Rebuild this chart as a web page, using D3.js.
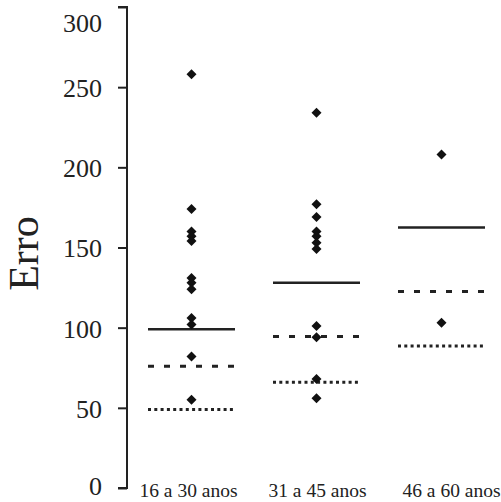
<!DOCTYPE html>
<html>
<head>
<meta charset="utf-8">
<script src="https://cdn.jsdelivr.net/npm/d3@7"></script>
<style>
  html, body { margin: 0; padding: 0; background: #fff; }
  svg { display: block; }
</style>
</head>
<body>
<svg id="chart" width="501" height="502"></svg>
<script>
// ---- data ----
const categories = ["16 a 30 anos", "31 a 45 anos", "46 a 60 anos"];
const pointsG1 = [258, 174, 160, 157, 154, 131, 128, 124, 106, 102, 82, 55];
const pointsG2 = [234, 177, 169, 160, 157, 153, 149, 101, 94, 68, 56];
const pointsG3 = [208, 103];
const solidLine = [99, 128, 162.5];   // solid horizontal line per group
const dashedLine = [76, 94.5, 122.5]; // dashed horizontal line per group
const dottedLine = [49, 66, 88.5];    // dotted horizontal line per group
const yTicks = [0, 50, 100, 150, 200, 250, 300];
const yLabel = "Erro";

const groups = [pointsG1, pointsG2, pointsG3];
const SERIF = '"Liberation Serif", "Times New Roman", Times, serif';

// ---- layout ----
const svg = d3.select("#chart");
const axisX = 127;
const y = d3.scaleLinear().domain([0, 300]).range([488, 7]);
const x = d3.scaleBand().domain(categories).range([axisX, 502]).paddingInner(0).paddingOuter(0);
const cx = c => x(c) + x.bandwidth() / 2;

// y axis
const yAxis = d3.axisLeft(y).tickValues(yTicks).tickSize(9).tickPadding(16).tickFormat(d3.format("d"));
const gy = svg.append("g").attr("transform", `translate(${axisX},0)`).call(yAxis);
gy.select(".domain").attr("stroke", "#222").attr("stroke-width", 2).attr("d", `M-9,${y(300)}H0V${y(0)}H-9`);
gy.selectAll(".tick line").attr("stroke", "#222").attr("stroke-width", 2);
gy.selectAll(".tick text")
  .style("font-family", SERIF).style("font-size", "26px").style("fill", "#222")
  .attr("dy", d => d === 300 ? "0.95em" : (d === 0 ? "0.25em" : "0.36em"));

// y label
svg.append("text")
  .attr("transform", `translate(38,${(y(300)+y(0))/2 + 6}) rotate(-90)`)
  .attr("text-anchor", "middle")
  .style("font-family", SERIF).style("font-size", "42px").style("fill", "#222")
  .text(yLabel);

// category labels
svg.append("g").selectAll("text").data(categories).join("text")
  .attr("x", (d, i) => cx(d) + [-1, 3, 12][i] )
  .attr("y", 497)
  .attr("text-anchor", "middle")
  .style("font-family", SERIF).style("font-size", "19.5px").style("fill", "#222")
  .text(d => d);

// horizontal lines
const halfW = 43.5;
const lineG = svg.append("g");
function drawLines(vals, styleFn) {
  lineG.selectAll(null).data(vals).join("line")
    .attr("x1", (d, i) => cx(categories[i]) - halfW + 2)
    .attr("x2", (d, i) => cx(categories[i]) + halfW + 2)
    .attr("y1", d => y(d)).attr("y2", d => y(d))
    .attr("stroke", "#222")
    .call(styleFn);
}
drawLines(solidLine, s => s.attr("stroke-width", 2.6));
drawLines(dashedLine, s => s.attr("stroke-width", 3).attr("stroke-dasharray", "6,10"));
drawLines(dottedLine, s => s.attr("stroke-width", 3).attr("stroke-dasharray", "3,3.3"));

// points (diamonds)
const diamond = "M0,-5L5,0L0,5L-5,0Z";
groups.forEach((pts, i) => {
  svg.append("g").selectAll("path").data(pts).join("path")
    .attr("d", diamond)
    .attr("transform", d => `translate(${cx(categories[i]) + 2},${y(d)})`)
    .attr("fill", "#111");
});
</script>
</body>
</html>
